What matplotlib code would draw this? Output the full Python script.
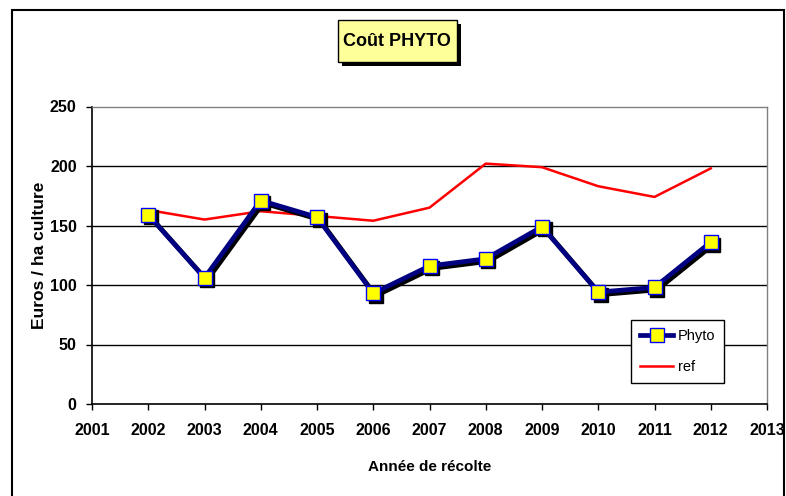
import matplotlib
matplotlib.use("Agg")
import matplotlib.pyplot as plt
import matplotlib.transforms as mtransforms
from matplotlib.patches import Rectangle

plt.rcParams['font.family'] = ['Liberation Sans', 'DejaVu Sans']

years = [2002, 2003, 2004, 2005, 2006, 2007, 2008, 2009, 2010, 2011, 2012]
phyto = [159, 106, 171, 157, 93, 116, 122, 149, 94, 98, 136]
ref = [163, 155, 162, 158, 154, 165, 202, 199, 183, 174, 198]
xticks = list(range(2001, 2014))
yticks = [0, 50, 100, 150, 200, 250]

fig = plt.figure(figsize=(7.86, 4.96), dpi=100)
# outer frame
fig.patches.append(Rectangle((12/786, -0.01), (784-12)/786, (496-10)/496 + 0.01,
                             transform=fig.transFigure, fill=False,
                             edgecolor='black', linewidth=1.5))

ax = fig.add_axes([92/786, 1-404/496, (767-92)/786, (404-106.5)/496])

for y in yticks[1:-1]:
    ax.axhline(y, color='black', linewidth=1.0, zorder=1)

lr, = ax.plot(years, ref, color='#FF0000', linewidth=1.8, zorder=2, label='ref')

shadow = mtransforms.offset_copy(ax.transData, fig=fig, x=2.5, y=-2.5, units='dots')
ax.plot(years, phyto, color='black', linewidth=3.4, marker='s', markersize=10,
        markerfacecolor='black', markeredgecolor='black', transform=shadow, zorder=3)
lp, = ax.plot(years, phyto, color='#000080', linewidth=3.4, marker='s', markersize=10,
              markerfacecolor='#FFFF00', markeredgecolor='#0000FF', markeredgewidth=1.0,
              zorder=4, label='Phyto')

ax.set_xlim(2001, 2013)
ax.set_ylim(0, 250)
ax.set_xticks(xticks)
ax.set_yticks(yticks)
ax.tick_params(direction='out', length=4, width=1, labelsize=11.5)
ax.tick_params(axis='x', pad=10)
ax.tick_params(axis='y', pad=7)
for lab in ax.get_xticklabels() + ax.get_yticklabels():
    lab.set_fontweight('bold')

ax.spines['left'].set_linewidth(1.2)
ax.spines['bottom'].set_linewidth(1.2)
ax.spines['top'].set_color('#808080')
ax.spines['right'].set_color('#808080')
ax.spines['top'].set_linewidth(1.0)
ax.spines['right'].set_linewidth(1.0)

ax.set_xlabel('Année de récolte', fontsize=11, fontweight='bold')
ax.xaxis.set_label_coords(0.5, -(467-404)/297.5, transform=ax.transAxes)
ax.xaxis.label.set_va('center')
ax.set_ylabel('Euros / ha culture', fontsize=12.5, fontweight='bold')
ax.yaxis.set_label_coords(-(92-40)/675, 0.5, transform=ax.transAxes)
ax.yaxis.label.set_va('center')

leg = ax.legend(handles=[lp, lr], labels=['Phyto', 'ref'],
                loc='upper left', bbox_to_anchor=((631-92)/675, (404-320)/297.5),
                frameon=True, fancybox=False, edgecolor='black', framealpha=1,
                fontsize=10.5, handlelength=2.3, borderpad=0.6, labelspacing=1.2,
                handletextpad=0.3, borderaxespad=0)
leg.get_frame().set_linewidth(1.0)
leg.set_zorder(10)

# title box with shadow
fig.patches.append(Rectangle(((338+4)/786, 1-(62+4)/496), (457-338)/786, (62-20)/496,
                             transform=fig.transFigure, facecolor='black', zorder=-1))
fig.patches.append(Rectangle((338/786, 1-62/496), (457-338)/786, (62-20)/496,
                             transform=fig.transFigure, facecolor='#FFFF99',
                             edgecolor='black', linewidth=1.0, zorder=0))
fig.text(397/786, 1-42/496, 'Coût PHYTO', ha='center', va='center', fontsize=13,
         fontweight='bold')

fig.savefig('out.png', dpi=100)
